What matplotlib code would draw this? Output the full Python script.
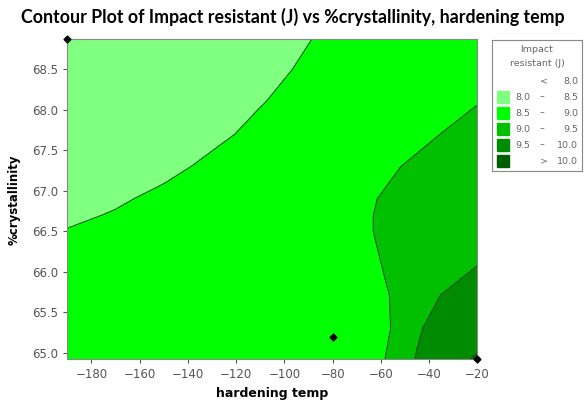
import numpy as np
import matplotlib
matplotlib.use("Agg")
import matplotlib.pyplot as plt
from matplotlib.patches import Rectangle

# grid (fitted surface of Impact resistant)
temp = [-190, -170, -150, -130, -110, -90, -75, -65, -55, -45, -35, -20]
cryst = [64.92, 65.3, 65.7, 66.1, 66.5, 66.7, 66.9, 67.1, 67.3, 67.7, 68.1, 68.5, 68.87]
impact = [
    [8.690, 8.697, 8.703, 8.710, 8.717, 8.724, 8.729, 8.732, 9.132, 9.536, 9.840, 10.040],
    [8.660, 8.664, 8.668, 8.672, 8.676, 8.680, 8.683, 8.685, 9.035, 9.431, 9.731, 9.843],
    [8.620, 8.653, 8.686, 8.720, 8.753, 8.786, 8.811, 8.828, 9.028, 9.310, 9.510, 9.657],
    [8.570, 8.632, 8.694, 8.756, 8.819, 8.881, 8.928, 8.959, 9.039, 9.168, 9.297, 9.490],
    [8.510, 8.587, 8.663, 8.740, 8.817, 8.893, 8.951, 8.989, 9.049, 9.146, 9.242, 9.387],
    [8.457, 8.517, 8.6065, 8.6955, 8.7845, 8.873, 8.940, 8.990, 9.044, 9.128, 9.2115, 9.3375],
    [8.449, 8.470, 8.550, 8.651, 8.752, 8.853, 8.929, 8.979, 9.039, 9.110, 9.181, 9.288],
    [8.419, 8.443, 8.4968, 8.5973, 8.706, 8.815, 8.8965, 8.9505, 9.0095, 9.075, 9.1405, 9.239],
    [8.389, 8.416, 8.4435, 8.5435, 8.660, 8.777, 8.864, 8.922, 8.980, 9.040, 9.100, 9.190],
    [8.328, 8.370, 8.411, 8.4525, 8.5525, 8.672, 8.762, 8.822, 8.882, 8.942, 9.0024, 9.090],
    [8.267, 8.322, 8.378, 8.433, 8.489, 8.579, 8.667, 8.726, 8.785, 8.843, 8.902, 8.990],
    [8.206, 8.264, 8.323, 8.381, 8.440, 8.530, 8.614, 8.669, 8.725, 8.781, 8.836, 8.920],
    [8.150, 8.219, 8.288, 8.356, 8.425, 8.494, 8.561, 8.614, 8.666, 8.719, 8.771, 8.850],
]

# design points shown on the plot
pts_temp = [-190, -80, -20]
pts_cryst = [68.87, 65.19, 64.92]

levels = [8.0, 8.5, 9.0, 9.5, 10.0, 10.5]
colores = ["#80FF80", "#00FF00", "#00C000", "#008C00", "#005C00"]

fig = plt.figure(figsize=(5.84, 4.01), dpi=100)
ax = fig.add_axes([67.3 / 584, 1 - 359.3 / 401, 410 / 584, 320 / 401])

X, Y = np.meshgrid(temp, cryst)
Z = np.array(impact)
ax.contourf(X, Y, Z, levels=levels, colors=colores)
ax.contour(X, Y, Z, levels=levels[1:-1], colors="#2d4d2d", linewidths=0.7)
ax.plot(pts_temp, pts_cryst, "D", color="black", markersize=3.5, clip_on=False, zorder=5)

ax.set_xlim(-190, -20)
ax.set_ylim(64.92, 68.87)
ax.set_xticks(range(-180, 0, 20))
ax.set_yticks(np.arange(65.0, 68.51, 0.5))
ax.set_yticklabels(["%.1f" % v for v in np.arange(65.0, 68.51, 0.5)])
ax.tick_params(labelsize=8.5, colors="#555555", length=3, labelcolor="#555555")
for s in ax.spines.values():
    s.set_color("#888888")
    s.set_linewidth(0.8)

ax.set_xlabel("hardening temp", fontsize=9, fontweight="bold", labelpad=4)
ax.set_ylabel("%crystallinity", fontsize=8.5, fontweight="bold", labelpad=8)
fig.text(0.502, 1 - 17 / 401, "Contour Plot of Impact resistant (J) vs %crystallinity, hardening temp",
         ha="center", va="center", fontsize=12.8, fontweight="bold", family=["Lato", "DejaVu Sans"])

# legend box
lg = fig.add_axes([492 / 584, 1 - 171 / 401, 90 / 584, 131 / 401])
lg.set_xlim(0, 90)
lg.set_ylim(131, 0)
lg.set_xticks([])
lg.set_yticks([])
for s in lg.spines.values():
    s.set_color("#888888")
    s.set_linewidth(0.8)
tc = "#666666"
fs = 6.8
lg.text(45, 10, "Impact", ha="center", va="center", fontsize=fs, color=tc)
lg.text(45, 24, "resistant (J)", ha="center", va="center", fontsize=fs, color=tc)
lg.text(52, 41, "<", ha="center", va="center", fontsize=fs, color=tc)
lg.text(86, 41, "%.1f" % levels[0], ha="right", va="center", fontsize=fs, color=tc)
for i in range(len(colores)):
    yy = 57 + 16 * i
    lg.add_patch(Rectangle((5, yy - 6), 12, 12, color=colores[i]))
    if i < len(colores) - 1:
        lg.text(23, yy, "%.1f" % levels[i], ha="left", va="center", fontsize=fs, color=tc)
        lg.text(50, yy, "\u2013", ha="center", va="center", fontsize=fs, color=tc)
        lg.text(86, yy, "%.1f" % levels[i + 1], ha="right", va="center", fontsize=fs, color=tc)
    else:
        lg.text(52, yy, ">", ha="center", va="center", fontsize=fs, color=tc)
        lg.text(86, yy, "%.1f" % levels[i], ha="right", va="center", fontsize=fs, color=tc)

fig.savefig("out.png", dpi=100)
